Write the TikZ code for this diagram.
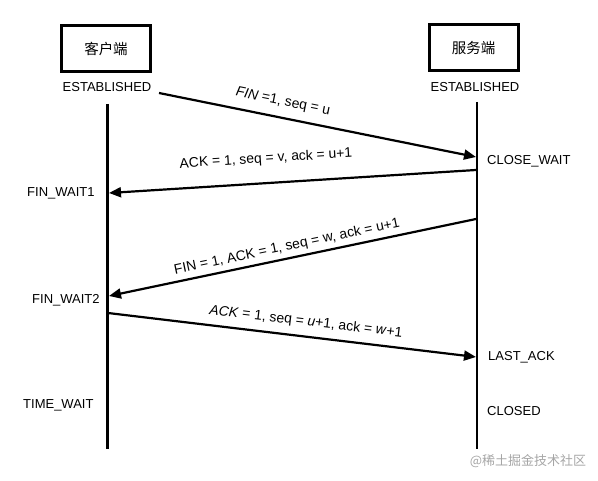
\documentclass[tikz,border=0pt]{standalone}
\usepackage{fontspec}
\setmainfont{Liberation Sans}
\newfontfamily\cjk{Noto Sans CJK SC}
\usetikzlibrary{arrows.meta}
\begin{document}
\begin{tikzpicture}[x=1pt,y=-1pt,
  hostbox/.style={draw,line width=3pt,minimum width=89pt,minimum height=46pt,inner sep=0pt,font=\cjk\fontsize{14.5}{16}\selectfont},
  st/.style={font=\fontsize{13}{15}\selectfont,inner sep=0pt},
  msg/.style={font=\fontsize{13.9}{16}\selectfont,inner sep=0pt},
  life/.style={line width=2.6pt},
  arr/.style={line width=2.2pt,-{Triangle[length=12pt,width=10pt]}}]
\useasboundingbox (0,0) rectangle (598,481);
% hosts
\node[hostbox] (client) at (106,48.5) {客户端};
\node[hostbox] (server) at (473.5,48) {服务端};
\node[st] (cest) at (107,87) {ESTABLISHED};
\node[st] (sest) at (475,87) {ESTABLISHED};
% lifelines
\coordinate (ctop) at (107.5,104);
\coordinate (cbot) at (107.5,449);
\coordinate (stop) at (477,102);
\coordinate (sbot) at (477,449);
\draw[life] (ctop) -- (cbot);
\draw[life] (stop) -- (sbot);
% state labels
\node[st,anchor=west] (closewait) at (487,161) {CLOSE\_WAIT};
\node[st,anchor=west] (lastack) at (488,357) {LAST\_ACK};
\node[st,anchor=west] (closed) at (487,411) {CLOSED};
\node[st,anchor=west] (fw1) at (27,193) {FIN\_WAIT1};
\node[st,anchor=west] (fw2) at (32,300) {FIN\_WAIT2};
\node[st,anchor=west] (tw) at (23,405) {TIME\_WAIT};
% message endpoints
\coordinate (m1a) at (159,93);
\coordinate (m1b) at (476,157);
\coordinate (m2a) at (476,170);
\coordinate (m2b) at (109,193);
\coordinate (m3a) at (476,219);
\coordinate (m3b) at (109,296);
\coordinate (m4a) at (108,313);
\coordinate (m4b) at (476,357);
\draw[arr] (m1a) -- (m1b);
\draw[arr] (m2a) -- (m2b);
\draw[arr] (m3a) -- (m3b);
\draw[arr] (m4a) -- (m4b);
% message labels
\node[msg,rotate=-11.4] (l1) at (283,102) {\textit{FIN} =1, seq = u};
\node[msg,rotate=3.6] (l2) at (266,159) {ACK = 1, seq = v, ack = u+1};
\node[msg,rotate=11.8] (l3) at (287,247) {FIN = 1, ACK = 1, seq = w, ack = u+1};
\node[msg,rotate=-6.8] (l4) at (306,322) {\textit{ACK} = 1, seq = \textit{u}+1, ack = \textit{w}+1};
% watermark
\node[font=\cjk\fontsize{13}{14}\selectfont,text=black!35,inner sep=0pt] (wm) at (528,461) {@稀土掘金技术社区};
\end{tikzpicture}
\end{document}
